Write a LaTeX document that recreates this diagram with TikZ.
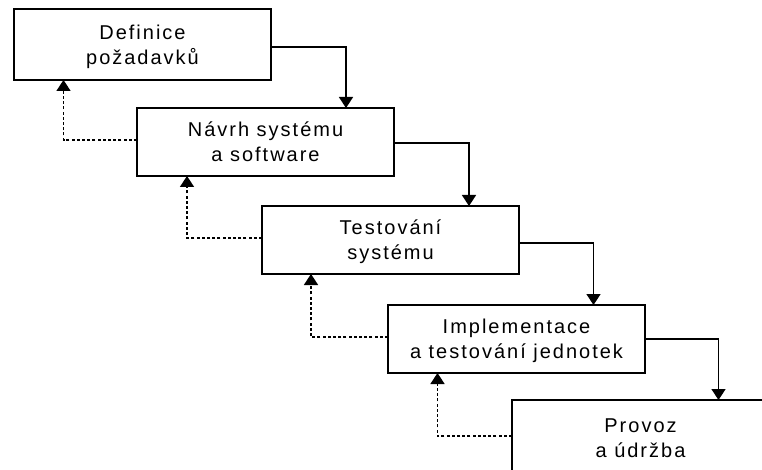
\documentclass[tikz,border=0pt]{standalone}
\usepackage{fontspec}
\setmainfont{Liberation Sans}[LetterSpace=10]
\usetikzlibrary{arrows.meta}

\begin{document}
\begin{tikzpicture}[
    x=1pt, y=-1pt,
    stagebox/.style={draw, line width=1.8pt, inner sep=0pt, outer sep=0pt,
      anchor=north west, minimum width=257pt, minimum height=68pt,
      align=center, font=\fontsize{20}{25}\selectfont,
      text height=39.5pt, text depth=0pt},
    flow/.style={line width=1.6pt, -{Triangle[width=14pt,length=11pt]}},
    back/.style={line width=1.6pt, dash pattern=on 3pt off 2.2pt,
      -{Triangle[width=14pt,length=11pt]}}
  ]
  % page area, white background
  \useasboundingbox (0,0) rectangle (762,470);
  \fill[white] (0,0) rectangle (762,470);
  \clip (0,0) rectangle (762,470);

  % the five phases, stepping down to the right
  \node[stagebox, minimum height=71pt] (b1) at (14,9)   {Definice\\požadavků};
  \node[stagebox] (b2) at (137,108) {Návrh systému\\a software};
  \node[stagebox] (b3) at (262,206) {Testování\\systému};
  \node[stagebox] (b4) at (388,305) {Implementace\\a testování jednotek};
  \node[stagebox, minimum height=76pt] (b5) at (512,400) {Provoz\\a údržba};

  % forward flow to the next phase
  \draw[flow] ([yshift=-2.5pt]b1.east) -| ([xshift=80.5pt]b2.north);
  \draw[flow] ([yshift=-1pt]b2.east)   -| ([xshift=78.5pt]b3.north);
  \draw[flow] ([yshift=-3pt]b3.east)   -| ([xshift=77pt]b4.north);
  \draw[flow] (b4.east)                -| ([xshift=78pt]b5.north);

  % feedback to the previous phase
  \draw[back] ([yshift=2pt]b2.west) -| ([xshift=-79pt]b1.south);
  \draw[back] ([yshift=2pt]b3.west) -| ([xshift=-78.5pt]b2.south);
  \draw[back] ([yshift=2pt]b4.west) -| ([xshift=-79.5pt]b3.south);
  \draw[back] ([yshift=2pt]b5.west) -| ([xshift=-79pt]b4.south);
\end{tikzpicture}
\end{document}
